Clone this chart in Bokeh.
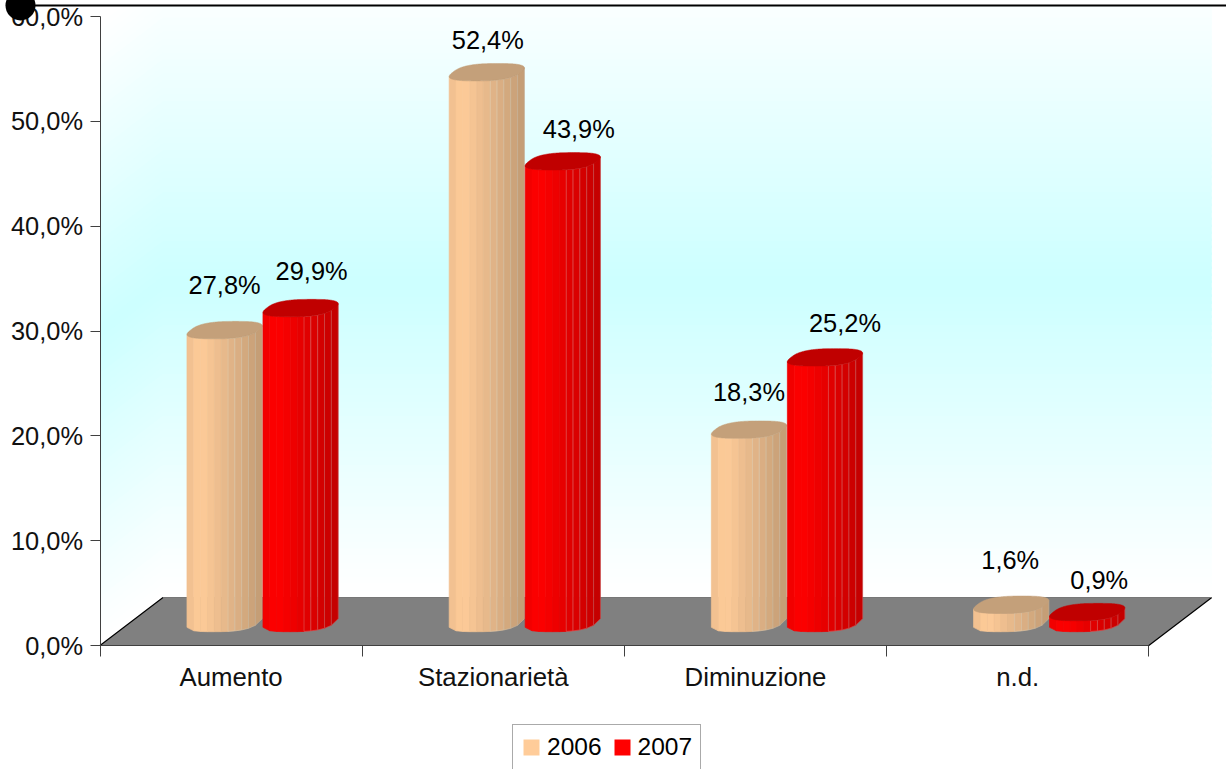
import numpy as np
from bokeh.embed import file_html
from bokeh.resources import INLINE
from bokeh.plotting import figure
from bokeh.models import (ColumnDataSource, LinearAxis, FixedTicker, Legend, LegendItem,
                          Range1d)
from bokeh.core.properties import value

categories = ["Aumento", "Stazionarietà", "Diminuzione", "n.d."]
series_names = ["2006", "2007"]
values_2006 = [27.8, 52.4, 18.3, 1.6]
values_2007 = [29.9, 43.9, 25.2, 0.9]
labels_2006 = ["27,8%", "52,4%", "18,3%", "1,6%"]
labels_2007 = ["29,9%", "43,9%", "25,2%", "0,9%"]
y_ticks = [0, 10, 20, 30, 40, 50, 60]
y_tick_labels = ["0,0%", "10,0%", "20,0%", "30,0%", "40,0%", "50,0%", "60,0%"]

W, H = 1226, 769
X0, Y0 = 99.5, 645.0           # pixel of the chart origin
PX_X, PX_Y = 262.2, 10.483     # pixels per category / per value unit
FONT = value("Liberation Sans")
FS = "25.4px"


def dx(px):
    return px / PX_X


def dy(px):
    return px / PX_Y


DX, DY = dx(63), dy(48)
BW = dx(76)
A, BX, BY = dx(34), dx(11), dy(8.7)

p = figure(width=W, height=H, output_backend="svg", toolbar_location=None,
           x_range=Range1d(-X0 / PX_X, (W - X0) / PX_X),
           y_range=Range1d(-(H - Y0) / PX_Y, Y0 / PX_Y),
           min_border=0, outline_line_color=None, x_axis_type=None, y_axis_type=None,
           margin=(0, 0, 0, 0))
p.grid.visible = False
p.background_fill_color = "white"
p.border_fill_color = "white"


def wall_colour(t):
    t = min(1.0, abs(t) * 1.02)
    return "#%02x%02xff" % (int(round(0xCC + (255 - 0xCC) * t)), 255)


N = 90
top_val, bot_val = 60 + DY, DY
edges = [bot_val + (top_val - bot_val) * k / N for k in range(N + 1)]
bx, by, bc, lx, ly = [], [], [], [], []
for k in range(N):
    lo, hi = edges[k], edges[k + 1]
    col = wall_colour((k + 0.5) / N * 2 - 1)
    bc.append(col)
    bx.append([DX, 4 + DX, 4 + DX, DX])
    by.append([lo, lo, hi + 0.25, hi + 0.25])
    lx.append([0, DX, DX, 0])
    ly.append([lo - DY, lo, hi + 0.25, hi + 0.25 - DY])
p.patches(bx, by, fill_color=bc, line_color=None)
p.patches(lx, ly, fill_color=bc, line_color=None)

# floor
p.patch([0, DX, 4 + DX, 4], [0, DY, DY, 0], fill_color="#808080", line_color=None)
p.line([DX, 0, 4, 4 + DX], [DY, 0, 0, DY], line_color="black", line_width=1.2)
p.line([DX, 4 + DX], [DY, DY], line_color="#777777", line_width=1)


def shade(t):
    if t < 0.18:
        return 0.93 + 0.07 * t / 0.18
    return 1.0 - 0.24 * (t - 0.18) / 0.82


def tone(rgb, f):
    return "#%02x%02x%02x" % tuple(int(round(c * f)) for c in rgb)


# outline of a cylinder's section: a rounded, sheared lozenge
tt = np.linspace(0, 2 * np.pi, 241)[:-1]
POW = 0.72
CX = A * np.sign(np.cos(tt)) * np.abs(np.cos(tt)) ** POW
SN = np.sign(np.sin(tt)) * np.abs(np.sin(tt)) ** POW
OX = CX + BX * SN
OY = BY * SN
i_r = int(np.argmax(OX))
i_l = int(np.argmin(OX))
# front path runs from the leftmost point, under the shape, to the rightmost one
order = np.arange(i_l, i_r + (len(tt) if i_r < i_l else 0) + 1) % len(tt)
M = 11
FX = np.linspace(OX[order[0]], OX[order[-1]], M + 1)
FY = np.interp(FX, OX[order], OY[order])


def cylinder(cx, val, rgb, top_col, line_rgb):
    base = DY / 2 - dy(1.5)
    top = DY / 2 + val
    xs, ys, fs, ls = [], [], [], []
    for j in range(M):
        t = (j + 0.5) / M
        xs.append([cx + FX[j], cx + FX[j + 1], cx + FX[j + 1], cx + FX[j]])
        ys.append([base + FY[j], base + FY[j + 1], top + FY[j + 1], top + FY[j]])
        f = shade(t)
        fs.append(tone(rgb, f))
        ls.append(tone(line_rgb, f) if t > 0.55 else tone(rgb, f))
    p.patches(xs, ys, fill_color=fs, line_color=ls, line_width=0.7)
    p.patch(cx + OX, top + OY, fill_color=top_col, line_color=top_col, line_width=0.5)


TAN = (255, 204, 153)
RED = (255, 0, 0)
for i in range(len(categories)):
    c = i + 0.5 + DX / 2
    cylinder(c - BW / 2, values_2006[i], TAN, "#c4a07a", (255, 226, 190))
    cylinder(c + BW / 2, values_2007[i], RED, "#c00000", (255, 90, 90))

# data labels
off_x_2006 = [0, 1, 0, -1]
off_x_2007 = [11, 16, 20, 12]
off_y_2006 = [45, 32, 38, 45]
off_y_2007 = [37, 32, 34, 32]
tx, ty, tl, ox, oy = [], [], [], [], []
for i in range(len(categories)):
    c = i + 0.5 + DX / 2
    tx += [c - BW / 2, c + BW / 2]
    ty += [DY / 2 + values_2006[i], DY / 2 + values_2007[i]]
    tl += [labels_2006[i], labels_2007[i]]
    ox += [off_x_2006[i], off_x_2007[i]]
    oy += [-off_y_2006[i], -off_y_2007[i]]
src = ColumnDataSource(dict(x=tx, y=ty, t=tl, ox=ox, oy=oy))
p.text("x", "y", text="t", source=src, x_offset="ox", y_offset="oy",
       text_align="center", text_baseline="middle", text_font=FONT,
       text_font_size=FS, text_color="black")

# axes
AXC = "#404040"
yax = LinearAxis(fixed_location=0, bounds=(0, 60),
                 ticker=FixedTicker(ticks=y_ticks),
                 major_label_overrides=dict(zip(y_ticks, y_tick_labels)),
                 major_tick_out=10, major_tick_in=0, minor_tick_line_color=None,
                 axis_line_color=AXC, major_tick_line_color=AXC,
                 major_label_text_font="Liberation Sans", major_label_text_font_size=FS,
                 major_label_text_color="#111111", major_label_standoff=7)
p.add_layout(yax, "left")

xax = LinearAxis(fixed_location=0, bounds=(0, 4), ticker=FixedTicker(ticks=[0, 1, 2, 3, 4]),
                 major_label_overrides={k: "" for k in range(5)},
                 major_tick_out=11, major_tick_in=0, minor_tick_line_color=None,
                 axis_line_color=AXC, major_tick_line_color=AXC)
p.add_layout(xax, "below")

cat_ticks = [i + 0.5 for i in range(len(categories))]
xcat = LinearAxis(fixed_location=0, ticker=FixedTicker(ticks=cat_ticks),
                  major_label_overrides=dict(zip(cat_ticks, categories)),
                  major_tick_out=0, major_tick_in=0, minor_tick_line_color=None,
                  axis_line_color=None,
                  major_label_text_font="Liberation Sans", major_label_text_font_size="25.8px",
                  major_label_text_color="#111111", major_label_standoff=17)
p.add_layout(xcat, "below")

# slide decoration at the top
p.quad(left=[-X0 / PX_X], right=[(W - X0) / PX_X], bottom=[dy(Y0 - 5)], top=[Y0 / PX_Y],
       fill_color="white", line_color=None, level="overlay")
p.line([dx(20 - X0), (W - X0) / PX_X], [dy(Y0 - 5)] * 2, line_color="black", line_width=2,
       level="overlay")
p.scatter([dx(20 - X0)], [dy(Y0 - 5)], size=30, marker="circle", fill_color="black",
          line_color=None, level="overlay")

# legend
nan = float("nan")
r1 = p.quad(left=[nan], right=[nan], bottom=[nan], top=[nan], fill_color="#ffcc99", line_color=None)
r2 = p.quad(left=[nan], right=[nan], bottom=[nan], top=[nan], fill_color="#ff0000", line_color=None)
legend = Legend(items=[LegendItem(label=series_names[0], renderers=[r1]),
                       LegendItem(label=series_names[1], renderers=[r2])],
                orientation="horizontal", location=(512, -1),
                glyph_width=20, glyph_height=20, spacing=10, label_standoff=6,
                padding=8, margin=0,
                label_text_font="Liberation Sans", label_text_font_size="24.5px",
                label_text_color="black", border_line_color="#555555", border_line_width=1.5,
                background_fill_color="white", background_fill_alpha=1)
p.add_layout(legend)

open("out.html", "w").write(file_html(p, INLINE))
